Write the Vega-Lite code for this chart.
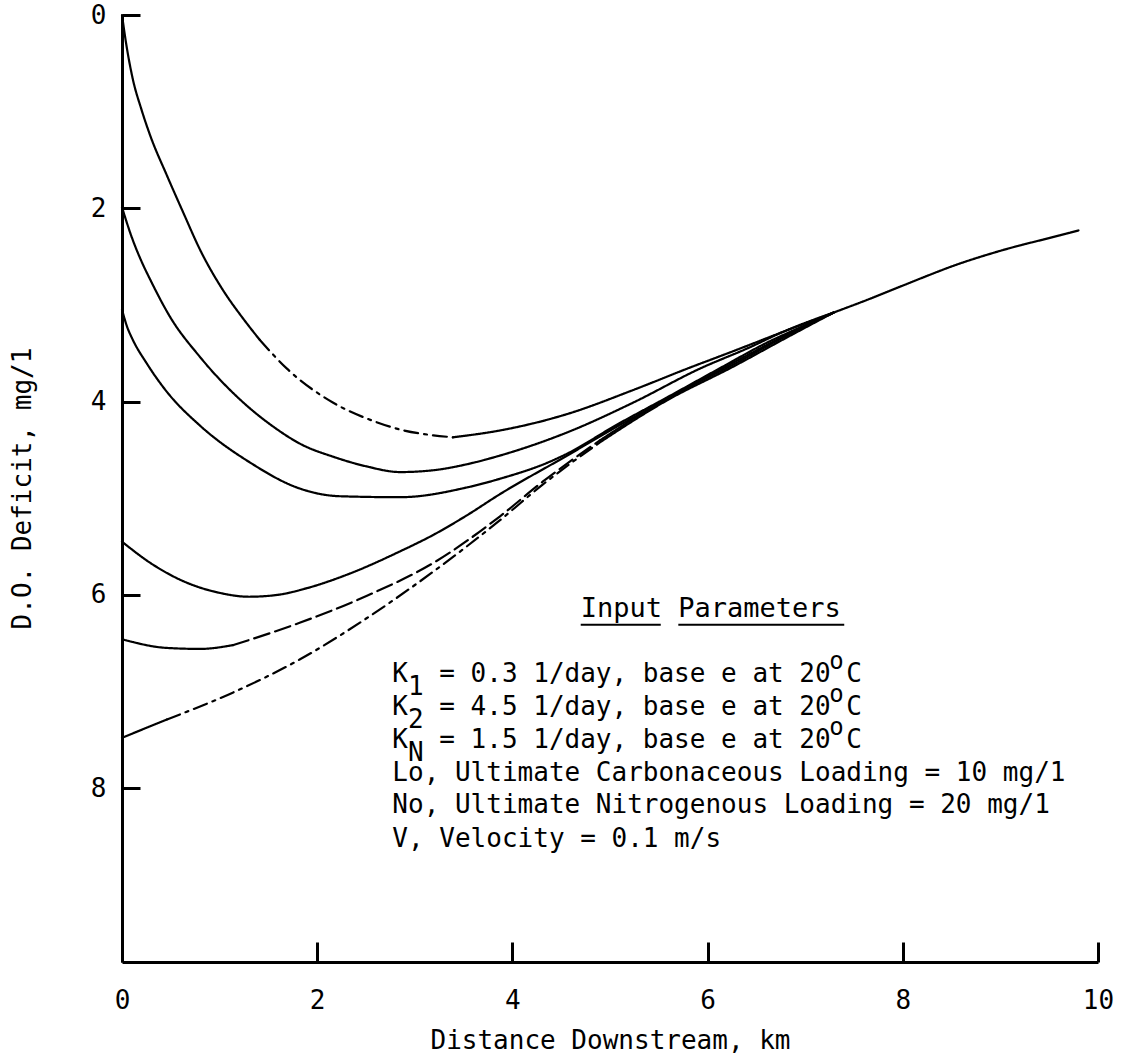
{
  "$schema": "https://vega.github.io/schema/vega-lite/v6.json",
  "width": 976,
  "height": 947,
  "autosize": {"type": "none"},
  "padding": {"left": 122, "top": 15, "right": 31, "bottom": 97},
  "background": "white",
  "config": {"view": {"stroke": null}, "font": "DejaVu Sans Mono"},
  "datasets": {
    "curves": [
      {"s": "c1a", "x": 0, "y": 0}, {"s": "c1a", "x": 0.04, "y": 0.28}, {"s": "c1a", "x": 0.11, "y": 0.66}, {"s": "c1a", "x": 0.2, "y": 0.98}, {"s": "c1a", "x": 0.29, "y": 1.25}, {"s": "c1a", "x": 0.46, "y": 1.66}, {"s": "c1a", "x": 0.63, "y": 2.05}, {"s": "c1a", "x": 0.8, "y": 2.43}, {"s": "c1a", "x": 1.03, "y": 2.84}, {"s": "c1a", "x": 1.24, "y": 3.14}, {"s": "c1a", "x": 1.41, "y": 3.36},
      {"s": "c1b", "x": 1.41, "y": 3.36}, {"s": "c1b", "x": 1.69, "y": 3.66}, {"s": "c1b", "x": 2.16, "y": 4.01}, {"s": "c1b", "x": 2.57, "y": 4.2}, {"s": "c1b", "x": 2.85, "y": 4.29}, {"s": "c1b", "x": 3.19, "y": 4.35}, {"s": "c1b", "x": 3.39, "y": 4.37},
      {"s": "c1c", "x": 3.39, "y": 4.37}, {"s": "c1c", "x": 3.87, "y": 4.3}, {"s": "c1c", "x": 4.56, "y": 4.13}, {"s": "c1c", "x": 5.24, "y": 3.88}, {"s": "c1c", "x": 5.79, "y": 3.66}, {"s": "c1c", "x": 6.26, "y": 3.48}, {"s": "c1c", "x": 6.77, "y": 3.28}, {"s": "c1c", "x": 7.29, "y": 3.08}, {"s": "c1c", "x": 7.63, "y": 2.95}, {"s": "c1c", "x": 8.0, "y": 2.8}, {"s": "c1c", "x": 8.59, "y": 2.57}, {"s": "c1c", "x": 9.0, "y": 2.44}, {"s": "c1c", "x": 9.61, "y": 2.28}, {"s": "c1c", "x": 9.8, "y": 2.23},
      {"s": "c2", "x": 0, "y": 1.99}, {"s": "c2", "x": 0.1, "y": 2.3}, {"s": "c2", "x": 0.2, "y": 2.55}, {"s": "c2", "x": 0.29, "y": 2.74}, {"s": "c2", "x": 0.49, "y": 3.12}, {"s": "c2", "x": 0.8, "y": 3.54}, {"s": "c2", "x": 1.21, "y": 3.98}, {"s": "c2", "x": 1.55, "y": 4.26}, {"s": "c2", "x": 1.85, "y": 4.45}, {"s": "c2", "x": 2.16, "y": 4.57}, {"s": "c2", "x": 2.5, "y": 4.67}, {"s": "c2", "x": 2.85, "y": 4.73}, {"s": "c2", "x": 3.2, "y": 4.71}, {"s": "c2", "x": 3.53, "y": 4.65}, {"s": "c2", "x": 3.87, "y": 4.56}, {"s": "c2", "x": 4.56, "y": 4.32}, {"s": "c2", "x": 5.24, "y": 4.01}, {"s": "c2", "x": 5.92, "y": 3.66}, {"s": "c2", "x": 6.43, "y": 3.44}, {"s": "c2", "x": 6.77, "y": 3.28}, {"s": "c2", "x": 7.29, "y": 3.08},
      {"s": "c3", "x": 0, "y": 3.05}, {"s": "c3", "x": 0.05, "y": 3.22}, {"s": "c3", "x": 0.11, "y": 3.36}, {"s": "c3", "x": 0.25, "y": 3.6}, {"s": "c3", "x": 0.46, "y": 3.9}, {"s": "c3", "x": 0.8, "y": 4.25}, {"s": "c3", "x": 1.31, "y": 4.63}, {"s": "c3", "x": 1.82, "y": 4.9}, {"s": "c3", "x": 2.23, "y": 4.98}, {"s": "c3", "x": 2.85, "y": 4.99}, {"s": "c3", "x": 3.53, "y": 4.89}, {"s": "c3", "x": 3.87, "y": 4.8}, {"s": "c3", "x": 4.39, "y": 4.62}, {"s": "c3", "x": 4.56, "y": 4.54}, {"s": "c3", "x": 5.07, "y": 4.24}, {"s": "c3", "x": 5.58, "y": 3.96}, {"s": "c3", "x": 6.1, "y": 3.67}, {"s": "c3", "x": 6.61, "y": 3.39}, {"s": "c3", "x": 7.0, "y": 3.21}, {"s": "c3", "x": 7.29, "y": 3.08},
      {"s": "c4", "x": 0, "y": 5.45}, {"s": "c4", "x": 0.29, "y": 5.67}, {"s": "c4", "x": 0.63, "y": 5.86}, {"s": "c4", "x": 1.0, "y": 5.98}, {"s": "c4", "x": 1.3, "y": 6.02}, {"s": "c4", "x": 1.6, "y": 6.0}, {"s": "c4", "x": 1.9, "y": 5.93}, {"s": "c4", "x": 2.31, "y": 5.79}, {"s": "c4", "x": 2.85, "y": 5.55}, {"s": "c4", "x": 3.19, "y": 5.38}, {"s": "c4", "x": 3.53, "y": 5.18}, {"s": "c4", "x": 3.87, "y": 4.96}, {"s": "c4", "x": 4.56, "y": 4.56}, {"s": "c4", "x": 5.07, "y": 4.26}, {"s": "c4", "x": 5.58, "y": 3.98}, {"s": "c4", "x": 6.26, "y": 3.6}, {"s": "c4", "x": 6.77, "y": 3.33}, {"s": "c4", "x": 7.29, "y": 3.08},
      {"s": "c5a", "x": 0, "y": 6.46}, {"s": "c5a", "x": 0.46, "y": 6.55}, {"s": "c5a", "x": 0.8, "y": 6.56}, {"s": "c5a", "x": 1.14, "y": 6.52},
      {"s": "c5b", "x": 1.14, "y": 6.52}, {"s": "c5b", "x": 1.82, "y": 6.29}, {"s": "c5b", "x": 2.51, "y": 6.01}, {"s": "c5b", "x": 3.19, "y": 5.67}, {"s": "c5b", "x": 3.87, "y": 5.19}, {"s": "c5b", "x": 4.31, "y": 4.83}, {"s": "c5b", "x": 4.9, "y": 4.4},
      {"s": "c5c", "x": 4.9, "y": 4.4}, {"s": "c5c", "x": 5.58, "y": 3.97}, {"s": "c5c", "x": 6.26, "y": 3.62}, {"s": "c5c", "x": 6.77, "y": 3.34}, {"s": "c5c", "x": 7.29, "y": 3.08},
      {"s": "c6a", "x": 0, "y": 7.48}, {"s": "c6a", "x": 0.46, "y": 7.29},
      {"s": "c6b", "x": 0.46, "y": 7.29}, {"s": "c6b", "x": 1.14, "y": 7.01}, {"s": "c6b", "x": 1.82, "y": 6.67}, {"s": "c6b", "x": 2.51, "y": 6.24}, {"s": "c6b", "x": 3.19, "y": 5.76}, {"s": "c6b", "x": 3.87, "y": 5.23}, {"s": "c6b", "x": 4.31, "y": 4.86}, {"s": "c6b", "x": 4.9, "y": 4.42},
      {"s": "c6c", "x": 4.9, "y": 4.42}, {"s": "c6c", "x": 5.58, "y": 3.99}, {"s": "c6c", "x": 6.26, "y": 3.64}, {"s": "c6c", "x": 6.77, "y": 3.36}, {"s": "c6c", "x": 7.29, "y": 3.08}
    ],
    "heading": [
      {"x": 4.7, "y": 6.15, "t": "Input Parameters"}
    ],
    "lines": [
      {"x": 2.77, "y": 6.82, "t": "K\u00a0 = 0.3 1/day, base e at 20\u00a0C"},
      {"x": 2.77, "y": 7.16, "t": "K\u00a0 = 4.5 1/day, base e at 20\u00a0C"},
      {"x": 2.77, "y": 7.5, "t": "K\u00a0 = 1.5 1/day, base e at 20\u00a0C"},
      {"x": 2.77, "y": 7.84, "t": "Lo, Ultimate Carbonaceous Loading = 10 mg/1"},
      {"x": 2.77, "y": 8.18, "t": "No, Ultimate Nitrogenous Loading = 20 mg/1"},
      {"x": 2.77, "y": 8.53, "t": "V, Velocity = 0.1 m/s"}
    ],
    "subs": [
      {"x": 2.77, "y": 6.82, "t": "1"},
      {"x": 2.77, "y": 7.16, "t": "2"},
      {"x": 2.77, "y": 7.5, "t": "N"}
    ],
    "sups": [
      {"x": 2.77, "y": 6.82, "t": "o"},
      {"x": 2.77, "y": 7.16, "t": "o"},
      {"x": 2.77, "y": 7.5, "t": "o"}
    ],
    "underlines": [
      {"x": 4.7, "x2": 5.52, "y": 6.31},
      {"x": 5.7, "x2": 7.4, "y": 6.31}
    ]
  },
  "layer": [
    {
      "data": {"name": "curves"},
      "mark": {"type": "line", "color": "black", "strokeWidth": 2.2, "strokeCap": "round", "interpolate": "monotone"},
      "encoding": {
        "x": {
          "field": "x", "type": "quantitative",
          "scale": {"domain": [0, 10], "nice": false, "zero": false},
          "axis": {
            "values": [0, 2, 4, 6, 8, 10], "format": "d", "title": "Distance Downstream, km",
            "domainColor": "black", "domainWidth": 3, "tickColor": "black", "tickWidth": 3, "tickSize": -20,
            "labelFont": "DejaVu Sans Mono", "labelFontSize": 26, "labelColor": "black", "labelPadding": 45,
            "labelFlush": false, "labelOverlap": false,
            "titleFont": "DejaVu Sans Mono", "titleFontSize": 26, "titleFontWeight": "normal", "titleColor": "black",
            "titleY": 78, "titleBaseline": "middle", "grid": false
          }
        },
        "y": {
          "field": "y", "type": "quantitative",
          "scale": {"domain": [0, 9.8], "nice": false, "zero": false, "reverse": true},
          "axis": {
            "values": [0, 2, 4, 6, 8], "format": "d", "title": "D.O. Deficit, mg/1",
            "domainColor": "black", "domainWidth": 3, "tickColor": "black", "tickWidth": 3, "tickSize": -18,
            "labelFont": "DejaVu Sans Mono", "labelFontSize": 26, "labelColor": "black", "labelPadding": 34,
            "labelFlush": false, "labelOverlap": false,
            "titleFont": "DejaVu Sans Mono", "titleFontSize": 26, "titleFontWeight": "normal", "titleColor": "black",
            "titleX": -100, "titleY": 473, "titleAngle": -90, "titleBaseline": "middle", "titleAlign": "center", "grid": false
          }
        },
        "detail": {"field": "s", "type": "nominal"},
        "strokeDash": {
          "field": "s", "type": "nominal", "legend": null,
          "scale": {
            "domain": ["c1a", "c1b", "c1c", "c2", "c3", "c4", "c5a", "c5b", "c5c", "c6a", "c6b", "c6c"],
            "range": [[1, 0], [14, 6, 3, 6], [1, 0], [1, 0], [1, 0], [1, 0], [1, 0], [16, 6], [1, 0], [1, 0], [14, 6, 3, 6], [1, 0]]
          }
        }
      }
    },
    {
      "data": {"name": "heading"},
      "mark": {"type": "text", "align": "left", "baseline": "middle", "font": "DejaVu Sans Mono", "fontSize": 27, "color": "black"},
      "encoding": {
        "x": {"field": "x", "type": "quantitative"},
        "y": {"field": "y", "type": "quantitative"},
        "text": {"field": "t"}
      }
    },
    {
      "data": {"name": "lines"},
      "mark": {"type": "text", "align": "left", "baseline": "middle", "font": "DejaVu Sans Mono", "fontSize": 26, "color": "black"},
      "encoding": {
        "x": {"field": "x", "type": "quantitative"},
        "y": {"field": "y", "type": "quantitative"},
        "text": {"field": "t"}
      }
    },
    {
      "data": {"name": "subs"},
      "mark": {"type": "text", "align": "left", "baseline": "middle", "font": "DejaVu Sans Mono", "fontSize": 26, "color": "black", "dx": 15.6, "dy": 13},
      "encoding": {
        "x": {"field": "x", "type": "quantitative"},
        "y": {"field": "y", "type": "quantitative"},
        "text": {"field": "t"}
      }
    },
    {
      "data": {"name": "sups"},
      "mark": {"type": "text", "align": "left", "baseline": "middle", "font": "DejaVu Sans Mono", "fontSize": 24, "color": "black", "dx": 437, "dy": -12},
      "encoding": {
        "x": {"field": "x", "type": "quantitative"},
        "y": {"field": "y", "type": "quantitative"},
        "text": {"field": "t"}
      }
    },
    {
      "data": {"name": "underlines"},
      "mark": {"type": "rule", "color": "black", "strokeWidth": 2},
      "encoding": {
        "x": {"field": "x", "type": "quantitative"},
        "x2": {"field": "x2"},
        "y": {"field": "y", "type": "quantitative"}
      }
    }
  ]
}
